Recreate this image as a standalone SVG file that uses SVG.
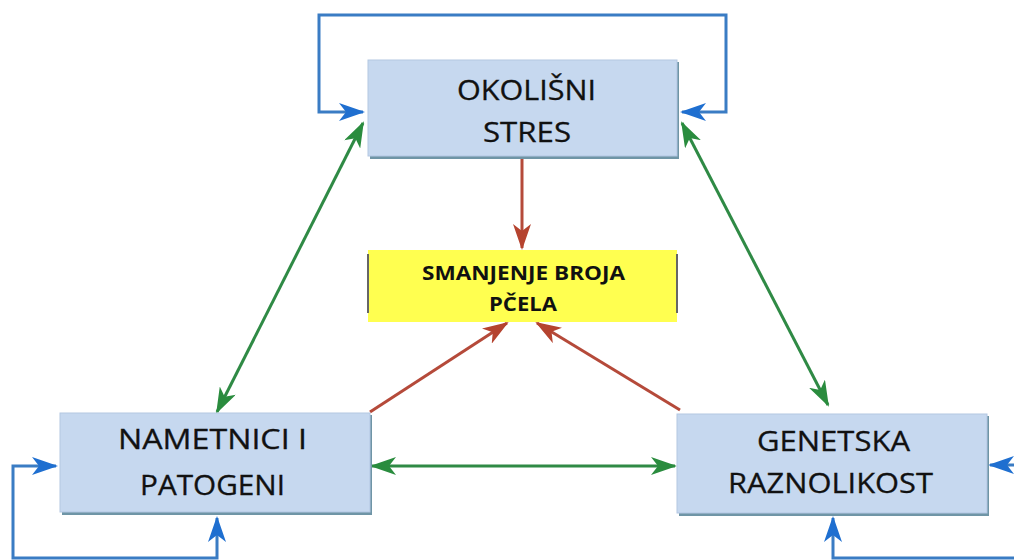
<svg xmlns="http://www.w3.org/2000/svg" width="1014" height="560" viewBox="0 0 1014 560">
<style>
.box{fill:#c6d8ef;stroke:#b3c7e2;stroke-width:1}
.shadow{fill:#6f95a6}
.lbl{font-family:"Open Sans","Liberation Sans",sans-serif;font-size:27px;fill:#111;text-anchor:middle;stroke:#111;stroke-width:0.3}
.ylbl{font-family:"Open Sans","Liberation Sans",sans-serif;font-size:20px;font-weight:bold;fill:#111;text-anchor:middle}
.blue{fill:none;stroke:#3a7cc4;stroke-width:3}
.green{fill:none;stroke:#2f8a45;stroke-width:3}
.red{fill:none;stroke:#b54a3a;stroke-width:3}
</style>
<defs>
<marker id="ab" viewBox="0 0 26 18" refX="24" refY="9" markerWidth="26" markerHeight="18" markerUnits="userSpaceOnUse" orient="auto-start-reverse"><path d="M0,0 L26,9 L0,18 L7,9 Z" fill="#1f6fd0"/></marker>
<marker id="ag" viewBox="0 0 26 18" refX="24" refY="9" markerWidth="26" markerHeight="18" markerUnits="userSpaceOnUse" orient="auto-start-reverse"><path d="M0,0 L26,9 L0,18 L7,9 Z" fill="#2a8c3e"/></marker>
<marker id="ar" viewBox="0 0 26 18" refX="24" refY="9" markerWidth="26" markerHeight="18" markerUnits="userSpaceOnUse" orient="auto-start-reverse"><path d="M0,0 L26,9 L0,18 L7,9 Z" fill="#b5432f"/></marker>
</defs>
<rect width="1014" height="560" fill="#ffffff"/>
<g id="connectors">
<path class="blue" d="M363,112 L319,112 L319,15 L726,15 L726,112 L682,112" marker-start="url(#ab)" marker-end="url(#ab)"/>
<path class="blue" d="M56,466 L13,466 L13,558 L217,558 L217,518" marker-start="url(#ab)" marker-end="url(#ab)"/>
<path class="blue" d="M990,465 L1018,465 L1018,558 L833,558 L833,518" marker-start="url(#ab)" marker-end="url(#ab)"/>
<path class="green" d="M363,123 L217,412" marker-start="url(#ag)" marker-end="url(#ag)"/>
<path class="green" d="M682,123 L828,405" marker-start="url(#ag)" marker-end="url(#ag)"/>
<path class="green" d="M372,466 L675,466" marker-start="url(#ag)" marker-end="url(#ag)"/>
<path class="red" d="M522,157 L522,248" marker-end="url(#ar)"/>
<path class="red" d="M370,412 L507,323" marker-end="url(#ar)"/>
<path class="red" d="M680,410 L537,323" marker-end="url(#ar)"/>
</g>
<g id="okolisni-stres">
<rect class="shadow" x="370" y="62" width="309" height="97"/>
<rect class="box" x="368" y="60" width="309" height="96"/>
<text class="lbl" x="526.5" y="100" textLength="139" lengthAdjust="spacingAndGlyphs">OKOLIŠNI</text>
<text class="lbl" x="527" y="142" textLength="88" lengthAdjust="spacingAndGlyphs">STRES</text>
</g>
<g id="smanjenje-broja-pcela">
<rect x="368" y="250" width="309" height="72" fill="#ffff50"/>
<line x1="368" y1="254" x2="368" y2="313" stroke="#666" stroke-width="2"/>
<line x1="677" y1="254" x2="677" y2="313" stroke="#666" stroke-width="2"/>
<text class="ylbl" x="523.5" y="280" textLength="203" lengthAdjust="spacingAndGlyphs">SMANJENJE BROJA</text>
<text class="ylbl" x="523" y="311" textLength="68" lengthAdjust="spacingAndGlyphs">PČELA</text>
</g>
<g id="nametnici-i-patogeni">
<rect class="shadow" x="62" y="415" width="310" height="100"/>
<rect class="box" x="60" y="413" width="310" height="99"/>
<text class="lbl" x="212.5" y="449" textLength="189" lengthAdjust="spacingAndGlyphs">NAMETNICI I</text>
<text class="lbl" x="212.5" y="495" textLength="145" lengthAdjust="spacingAndGlyphs">PATOGENI</text>
</g>
<g id="genetska-raznolikost">
<rect class="shadow" x="679" y="416" width="310" height="100"/>
<rect class="box" x="677" y="414" width="310" height="99"/>
<text class="lbl" x="833.5" y="451" textLength="153" lengthAdjust="spacingAndGlyphs">GENETSKA</text>
<text class="lbl" x="830.5" y="493" textLength="205" lengthAdjust="spacingAndGlyphs">RAZNOLIKOST</text>
</g>
</svg>
